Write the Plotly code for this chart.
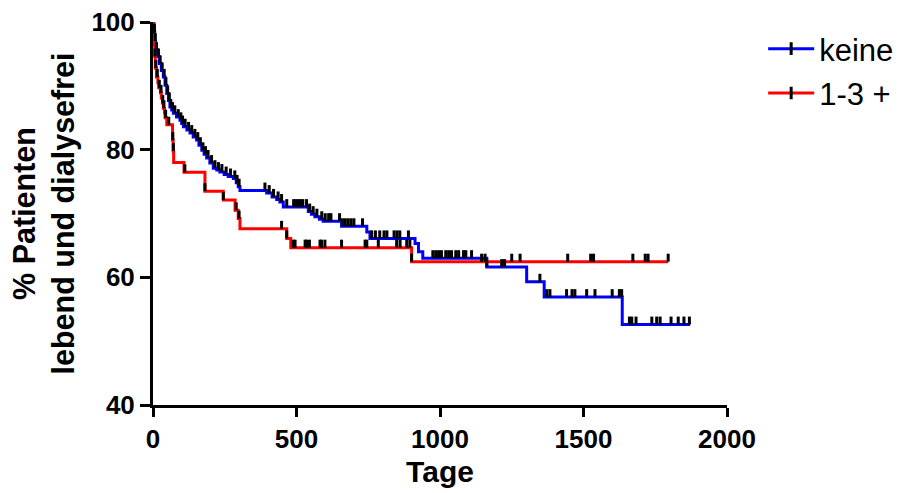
import numpy as np
import plotly.graph_objects as go

# Kaplan-Meier step curves: time in days, % patients alive and dialysis-free
keine_t = [0, 3, 6, 9, 16, 22, 29, 36, 42, 48, 54, 59, 65, 71, 82, 94, 100, 106, 118, 129,
           140, 152, 160, 170, 178, 187, 198, 210, 222, 233, 248, 262, 280, 290, 297, 303,
           396, 415, 431, 442, 454, 541, 552, 564, 580, 593, 657, 745, 756, 913, 925, 940,
           1163, 1302, 1363, 1635, 1871]
keine_s = [100, 98.5, 97.0, 95.6, 94.6, 93.5, 92.4, 91.4, 90.1, 88.8, 87.7, 86.7, 86.2, 85.7,
           85.1, 84.6, 84.1, 83.6, 83.1, 82.6, 82.0, 81.5, 80.7, 79.9, 79.3, 78.7, 77.9, 77.1,
           76.8, 76.5, 76.1, 75.8, 75.5, 74.8, 74.2, 73.6, 73.2, 72.6, 72.2, 71.8, 71.0, 70.3,
           69.9, 69.5, 69.1, 68.8, 68.0, 67.1, 66.1, 65.3, 64.0, 63.0, 61.6, 59.3, 56.9, 52.6,
           52.6]

drei_t = [0, 2, 4, 6, 8, 12, 17, 20, 26, 29, 33, 36, 40, 42, 48, 68, 70, 72, 108, 181, 245,
          286, 297, 303, 466, 480, 901, 1795]
drei_s = [100, 98.2, 96.4, 94.6, 92.8, 91.4, 90.5, 89.7, 88.9, 88.1, 87.3, 86.5, 85.8, 85.0,
          83.9, 81.5, 79.8, 78.0, 76.45, 73.5, 72.1, 70.5, 69.2, 67.6, 66.1, 64.65, 62.45, 62.45]

# Censored observations (days)
keine_cens = [2, 5, 8, 12, 19, 25, 32, 39, 45, 51, 57, 62, 68, 76, 88, 97, 103, 112, 124, 135,
              146, 156, 165, 174, 183, 192, 204, 216, 228, 240, 255, 270, 285, 293, 300, 390,
              405, 420, 436, 448, 466, 490, 498, 506, 514, 522, 535, 546, 558, 571, 588, 600,
              612, 620, 650, 660, 670, 680, 690, 700, 730, 762, 775, 790, 805, 815, 840, 850,
              860, 890, 975, 985, 995, 1005, 1020, 1030, 1040, 1055, 1065, 1082, 1090, 1110,
              1163, 1215, 1225, 1348, 1372, 1383, 1441, 1460, 1470, 1511, 1540, 1600, 1625,
              1633, 1660, 1668, 1683, 1738, 1755, 1767, 1805, 1830, 1850, 1869]
drei_cens = [3, 7, 10, 15, 22, 28, 34, 38, 44, 55, 69, 71, 111, 181, 245, 290, 300, 448, 466,
             489, 495, 530, 535, 545, 582, 587, 599, 657, 739, 745, 785, 849, 861, 884, 895,
             901, 1145, 1157, 1250, 1279, 1445, 1525, 1535, 1672, 1715, 1725, 1795]

groups = [
    ("keine", keine_t, keine_s, keine_cens, "#0000ff"),
    ("1-3 +", drei_t, drei_s, drei_cens, "#ff0000"),
]

FONT = "Liberation Sans, Arial, sans-serif"


def level_at(times, surv, t):
    idx = np.searchsorted(np.asarray(times), np.asarray(t), side="right") - 1
    return np.asarray(surv)[idx]


fig = go.Figure()

for name, t, s, cens, color in groups:
    fig.add_trace(go.Scatter(
        x=t, y=s, mode="lines", line=dict(color=color, width=3, shape="hv"),
        showlegend=False, hoverinfo="skip"))

for name, t, s, cens, color in groups:
    # censor ticks: short upward strokes sitting on the curve
    fig.add_trace(go.Scatter(
        x=cens, y=level_at(t, s, cens), mode="markers",
        marker=dict(size=0.1, color="black", opacity=0),
        error_y=dict(type="constant", symmetric=False, value=1.25, valueminus=0,
                     thickness=3, width=0, color="black"),
        showlegend=False, hoverinfo="skip"))

for i, (name, t, s, cens, color) in enumerate(groups):
    fig.add_trace(go.Scatter(
        x=[None], y=[None], mode="lines+markers", name=name, legendgroup=f"g{i}",
        line=dict(color=color, width=3),
        marker=dict(symbol="line-ns", size=9, color="black",
                    line=dict(color="black", width=3))))

fig.update_layout(
    width=909, height=493,
    margin=dict(l=153, r=182, t=22, b=88, autoexpand=False),
    paper_bgcolor="white", plot_bgcolor="white",
    font=dict(family=FONT, color="black", size=24),
    legend=dict(x=1.063, y=1.0, xanchor="left", yanchor="top",
                font=dict(family=FONT, size=31, color="black"),
                itemwidth=46, tracegroupgap=1, bgcolor="rgba(0,0,0,0)"),
)

fig.update_xaxes(
    range=[0, 2000], tickvals=[0, 500, 1000, 1500, 2000],
    showline=True, linecolor="black", linewidth=3,
    ticks="outside", ticklen=9, tickwidth=3, tickcolor="black",
    showgrid=False, zeroline=False, automargin=False,
    tickfont=dict(family=FONT, size=26, weight="bold"),
    title=dict(text="<b>Tage</b>", font=dict(family=FONT, size=30), standoff=8),
)
fig.update_yaxes(
    range=[40, 100], tickvals=[40, 60, 80, 100],
    showline=True, linecolor="black", linewidth=3,
    ticks="outside", ticklen=10, tickwidth=3, tickcolor="black",
    showgrid=False, zeroline=False, automargin=False,
    tickfont=dict(family=FONT, size=26, weight="bold"),
    title=dict(text="<b>% Patienten<br>lebend und dialysefrei</b>",
               font=dict(family=FONT, size=30.5), standoff=8),
)

fig.write_html("out.html")
